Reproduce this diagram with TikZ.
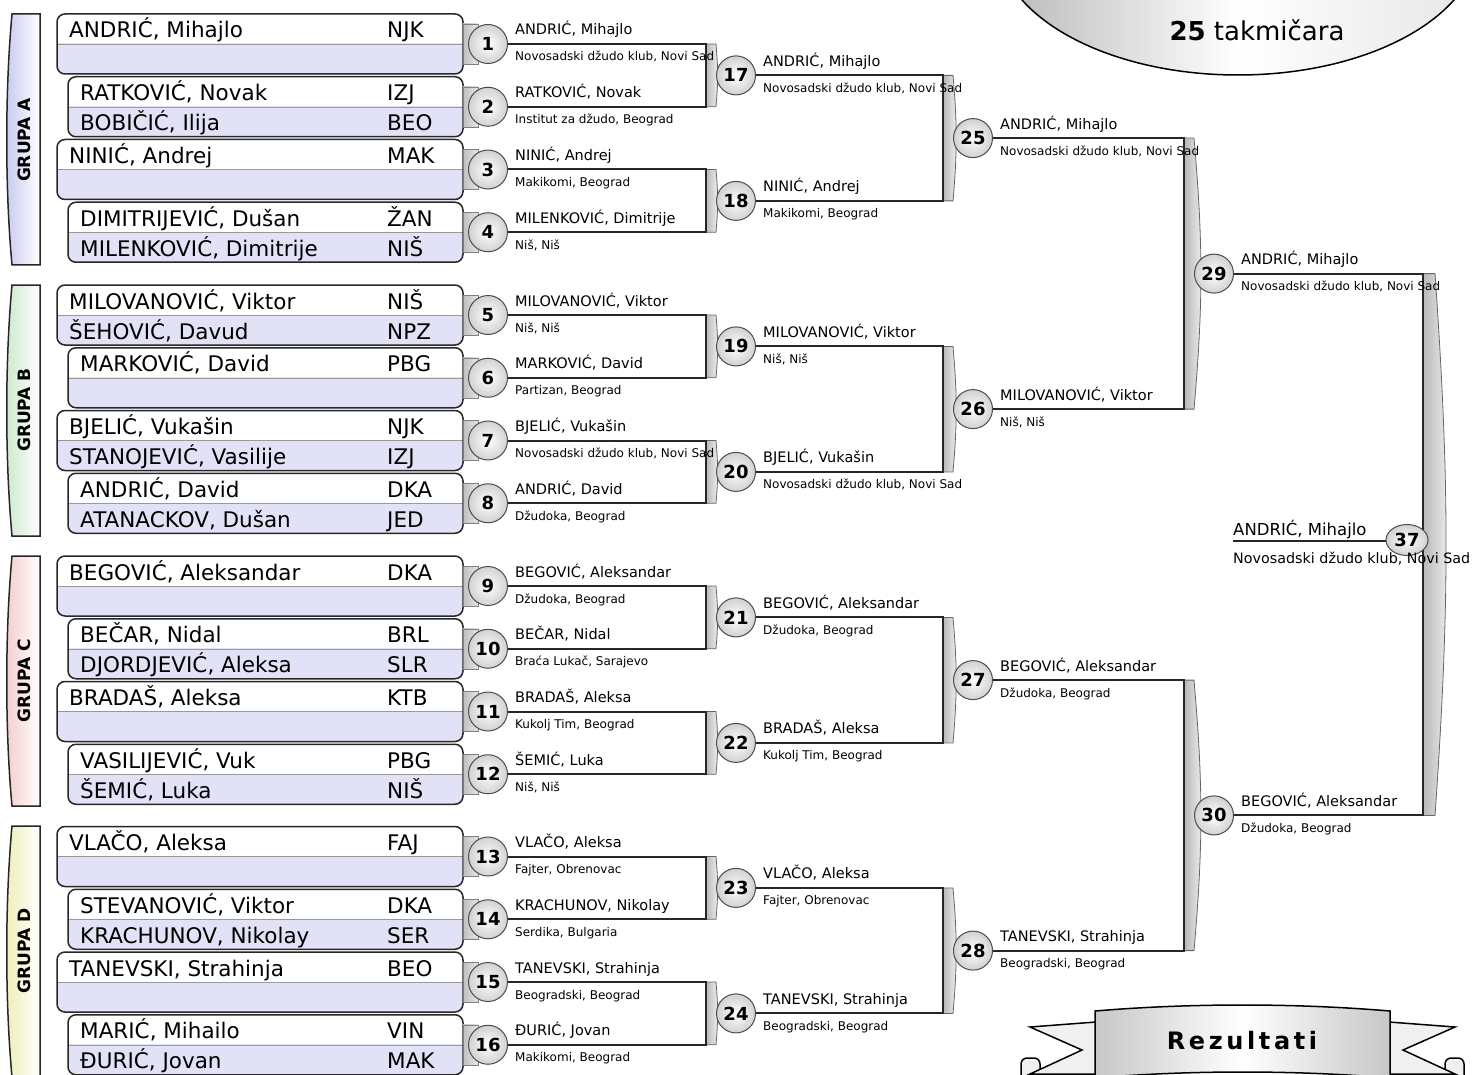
\documentclass[tikz,border=0pt]{standalone}
\usepackage{fontspec}
\setmainfont{DejaVu Sans}
\usetikzlibrary{calc,backgrounds,shapes.geometric}

\definecolor{rowlav}{HTML}{E2E2F6}
\definecolor{grpA}{HTML}{C8C8F0}
\definecolor{grpB}{HTML}{CCE8CC}
\definecolor{grpC}{HTML}{F4CCCC}
\definecolor{grpD}{HTML}{EEEEB8}

%% first round box: number, top, left, name, club, name, club
\newcommand{\MatchBox}[7]{%
  \begin{scope}
    \clip (#3-2,#2+30) rectangle (466,#2+63);
    \fill[rowlav,rounded corners=8pt] (#3,#2) rectangle (463,#2+60);
  \end{scope}
  \draw[black!40] (#3,#2+30) -- (463,#2+30);
  \draw[entry] (#3,#2) rectangle (463,#2+60);
  \node[player] (p#1a) at (#3+12,#2+24) {#4};
  \node[player] (c#1a) at (387,#2+24) {#5};
  \node[player] (p#1b) at (#3+12,#2+54) {#6};
  \node[player] (c#1b) at (387,#2+54) {#7};
  \path[stub] (463,#2+10) rectangle (478,#2+50);
  \node[bout] (m#1) at (488,#2+30) {#1};
}
%% winner of a bout: number, name, club
\newcommand{\Winner}[3]{%
  \node[wname] (w#1) at ($(m#1)+(27,-9)$) {#2};
  \node[wclub] (k#1) at ($(m#1)+(27,17)$) {#3};
}
%% bracket: upper bout, lower bout, next bout
\newcommand{\JoinPair}[3]{%
  \path[barfill] ($(m#3.west |- m#1)+(-10,0)$) -- (m#3.west |- m#1)
    to[bend left=5] (m#3.west |- m#2) -- ($(m#3.west |- m#2)+(-10,0)$) -- cycle;
  \draw[wire] (m#1.east) -| ($(m#3.west)+(-10,0)$) |- (m#2.east);
}

\begin{document}
\begin{tikzpicture}[x=1pt,y=-1pt]
  \tikzset{
    entry/.style={draw=black!85, line width=1.5pt, rounded corners=8pt},
    player/.style={anchor=base west, inner sep=0pt, font=\fontsize{21.5}{24}\selectfont},
    stub/.style={draw=black!50, left color=black!25, right color=black!10},
    bout/.style={circle, minimum size=39pt, inner sep=0pt, draw=black!70, line width=1pt,
      inner color=white, outer color=black!18, font=\bfseries\fontsize{18}{18}\selectfont},
    finalbout/.style={bout, ellipse, minimum width=42pt, minimum height=31pt},
    wname/.style={anchor=base west, inner sep=0pt, font=\fontsize{14.5}{17}\selectfont},
    wclub/.style={anchor=base west, inner sep=0pt, font=\fontsize{12}{14}\selectfont},
    wire/.style={draw=black!85, line width=2pt},
    barfill/.style={draw=black!60, line width=0.8pt, left color=black!28, right color=black!6},
    grpbar/.style={draw=black!85, line width=1.5pt, right color=white},
    grplabel/.style={rotate=90, font=\bfseries\fontsize{17}{20}\selectfont},
    oval/.style={draw=black, line width=1.5pt, left color=black!28, right color=black!10, middle color=white},
    ribbon/.style={draw=black, line width=1.5pt, left color=black!22, right color=black!22, middle color=white},
    tail/.style={draw=black, line width=1.5pt, fill=black!6},
  }
  \useasboundingbox (0,0) rectangle (1474,1075);
  \clip (0,0) rectangle (1474,1075);

  %% count of competitors
  \path[oval] (1238,-60) ellipse [x radius=241, y radius=135];
  \node[font=\fontsize{26}{30}\selectfont] (count) at (1257,30) {\textbf{25} takmičara};

  %% groups
  \path[grpbar, left color=grpA] (12,14) .. controls (5,90) and (5,190) .. (12,265) -- (40,265) -- (40,14) -- cycle;
  \path[grpbar, left color=grpB] (12,285) .. controls (5,361) and (5,460) .. (12,536) -- (40,536) -- (40,285) -- cycle;
  \path[grpbar, left color=grpC] (12,556) .. controls (5,632) and (5,731) .. (12,806) -- (40,806) -- (40,556) -- cycle;
  \path[grpbar, left color=grpD] (12,826) .. controls (5,902) and (5,1001) .. (12,1077) -- (40,1077) -- (40,826) -- cycle;
  \node[grplabel] (gA) at (24,140) {GRUPA A};
  \node[grplabel] (gB) at (24,410) {GRUPA B};
  \node[grplabel] (gC) at (24,681) {GRUPA C};
  \node[grplabel] (gD) at (24,951) {GRUPA D};

  %% first round
  \MatchBox{1}{14}{57}{ANDRIĆ, Mihajlo}{NJK}{}{}
  \MatchBox{2}{76.75}{68}{RATKOVIĆ, Novak}{IZJ}{BOBIČIĆ, Ilija}{BEO}
  \MatchBox{3}{139.5}{57}{NINIĆ, Andrej}{MAK}{}{}
  \MatchBox{4}{202.25}{68}{DIMITRIJEVIĆ, Dušan}{ŽAN}{MILENKOVIĆ, Dimitrije}{NIŠ}
  \MatchBox{5}{285}{57}{MILOVANOVIĆ, Viktor}{NIŠ}{ŠEHOVIĆ, Davud}{NPZ}
  \MatchBox{6}{347.75}{68}{MARKOVIĆ, David}{PBG}{}{}
  \MatchBox{7}{410.5}{57}{BJELIĆ, Vukašin}{NJK}{STANOJEVIĆ, Vasilije}{IZJ}
  \MatchBox{8}{473.25}{68}{ANDRIĆ, David}{DKA}{ATANACKOV, Dušan}{JED}
  \MatchBox{9}{556}{57}{BEGOVIĆ, Aleksandar}{DKA}{}{}
  \MatchBox{10}{618.75}{68}{BEČAR, Nidal}{BRL}{DJORDJEVIĆ, Aleksa}{SLR}
  \MatchBox{11}{681.5}{57}{BRADAŠ, Aleksa}{KTB}{}{}
  \MatchBox{12}{744.25}{68}{VASILIJEVIĆ, Vuk}{PBG}{ŠEMIĆ, Luka}{NIŠ}
  \MatchBox{13}{826.5}{57}{VLAČO, Aleksa}{FAJ}{}{}
  \MatchBox{14}{889.25}{68}{STEVANOVIĆ, Viktor}{DKA}{KRACHUNOV, Nikolay}{SER}
  \MatchBox{15}{952}{57}{TANEVSKI, Strahinja}{BEO}{}{}
  \MatchBox{16}{1014.75}{68}{MARIĆ, Mihailo}{VIN}{ĐURIĆ, Jovan}{MAK}

  %% later rounds
  \node[bout] (m17) at (736,75.4) {17};
  \node[bout] (m18) at (736,200.9) {18};
  \node[bout] (m19) at (736,346.4) {19};
  \node[bout] (m20) at (736,471.9) {20};
  \node[bout] (m21) at (736,617.4) {21};
  \node[bout] (m22) at (736,742.9) {22};
  \node[bout] (m23) at (736,887.9) {23};
  \node[bout] (m24) at (736,1013.4) {24};
  \node[bout] (m25) at (973,138.1) {25};
  \node[bout] (m26) at (973,409.1) {26};
  \node[bout] (m27) at (973,680.1) {27};
  \node[bout] (m28) at (973,950.6) {28};
  \node[bout] (m29) at (1214,273.6) {29};
  \node[bout] (m30) at (1214,815.4) {30};
  \node[finalbout] (m37) at (1407,540) {37};
  \coordinate (f37) at (1233,541);
  \coordinate (b37) at (1423,544.5);

  %% winners
  \Winner{1}{ANDRIĆ, Mihajlo}{Novosadski džudo klub, Novi Sad}
  \Winner{2}{RATKOVIĆ, Novak}{Institut za džudo, Beograd}
  \Winner{3}{NINIĆ, Andrej}{Makikomi, Beograd}
  \Winner{4}{MILENKOVIĆ, Dimitrije}{Niš, Niš}
  \Winner{5}{MILOVANOVIĆ, Viktor}{Niš, Niš}
  \Winner{6}{MARKOVIĆ, David}{Partizan, Beograd}
  \Winner{7}{BJELIĆ, Vukašin}{Novosadski džudo klub, Novi Sad}
  \Winner{8}{ANDRIĆ, David}{Džudoka, Beograd}
  \Winner{9}{BEGOVIĆ, Aleksandar}{Džudoka, Beograd}
  \Winner{10}{BEČAR, Nidal}{Braća Lukač, Sarajevo}
  \Winner{11}{BRADAŠ, Aleksa}{Kukolj Tim, Beograd}
  \Winner{12}{ŠEMIĆ, Luka}{Niš, Niš}
  \Winner{13}{VLAČO, Aleksa}{Fajter, Obrenovac}
  \Winner{14}{KRACHUNOV, Nikolay}{Serdika, Bulgaria}
  \Winner{15}{TANEVSKI, Strahinja}{Beogradski, Beograd}
  \Winner{16}{ĐURIĆ, Jovan}{Makikomi, Beograd}
  \Winner{17}{ANDRIĆ, Mihajlo}{Novosadski džudo klub, Novi Sad}
  \Winner{18}{NINIĆ, Andrej}{Makikomi, Beograd}
  \Winner{19}{MILOVANOVIĆ, Viktor}{Niš, Niš}
  \Winner{20}{BJELIĆ, Vukašin}{Novosadski džudo klub, Novi Sad}
  \Winner{21}{BEGOVIĆ, Aleksandar}{Džudoka, Beograd}
  \Winner{22}{BRADAŠ, Aleksa}{Kukolj Tim, Beograd}
  \Winner{23}{VLAČO, Aleksa}{Fajter, Obrenovac}
  \Winner{24}{TANEVSKI, Strahinja}{Beogradski, Beograd}
  \Winner{25}{ANDRIĆ, Mihajlo}{Novosadski džudo klub, Novi Sad}
  \Winner{26}{MILOVANOVIĆ, Viktor}{Niš, Niš}
  \Winner{27}{BEGOVIĆ, Aleksandar}{Džudoka, Beograd}
  \Winner{28}{TANEVSKI, Strahinja}{Beogradski, Beograd}
  \Winner{29}{ANDRIĆ, Mihajlo}{Novosadski džudo klub, Novi Sad}
  \Winner{30}{BEGOVIĆ, Aleksandar}{Džudoka, Beograd}
  \node[anchor=base west, inner sep=0pt, font=\fontsize{16.5}{19}\selectfont] (w37) at ($(f37)+(0,-6)$) {ANDRIĆ, Mihajlo};
  \node[anchor=base west, inner sep=0pt, font=\fontsize{14.3}{17}\selectfont] (k37) at ($(f37)+(0,22)$) {Novosadski džudo klub, Novi Sad};

  %% brackets
  \begin{pgfonlayer}{background}
    \JoinPair{1}{2}{17}
    \JoinPair{3}{4}{18}
    \JoinPair{5}{6}{19}
    \JoinPair{7}{8}{20}
    \JoinPair{9}{10}{21}
    \JoinPair{11}{12}{22}
    \JoinPair{13}{14}{23}
    \JoinPair{15}{16}{24}
    \JoinPair{17}{18}{25}
    \JoinPair{19}{20}{26}
    \JoinPair{21}{22}{27}
    \JoinPair{23}{24}{28}
    \JoinPair{25}{26}{29}
    \JoinPair{27}{28}{30}
    \path[barfill] (b37 |- m29) -- ($(b37 |- m29)+(12,0)$) to[bend left=4]
      ($(b37 |- m30)+(12,0)$) -- (b37 |- m30) -- cycle;
    \draw[wire] (m29.east) -| (b37) |- (m30.east);
    \draw[wire] (f37) -- (m37.west |- f37);
  \end{pgfonlayer}

  %% results banner
  \path[tail, rounded corners=6pt] (1040,1058) -- (1021,1058) -- (1021,1092) -- (1040,1092) -- cycle;
  \path[tail, rounded corners=6pt] (1445,1058) -- (1464,1058) -- (1464,1092) -- (1445,1092) -- cycle;
  \path[tail] (1096,1022) -- (1030,1027) -- (1082,1050) -- (1030,1074) -- (1096,1074) -- cycle;
  \path[tail] (1389,1022) -- (1455,1027) -- (1403,1050) -- (1455,1074) -- (1389,1074) -- cycle;
  \path[ribbon] (1095,1011) .. controls (1190,1003) and (1295,1003) .. (1390,1011) -- (1390,1078)
    .. controls (1295,1070) and (1190,1070) .. (1095,1078) -- cycle;
  \node[font=\bfseries\fontsize{24}{28}\selectfont\addfontfeature{LetterSpace=15}] (res) at (1242,1041) {Rezultati};
\end{tikzpicture}
\end{document}
